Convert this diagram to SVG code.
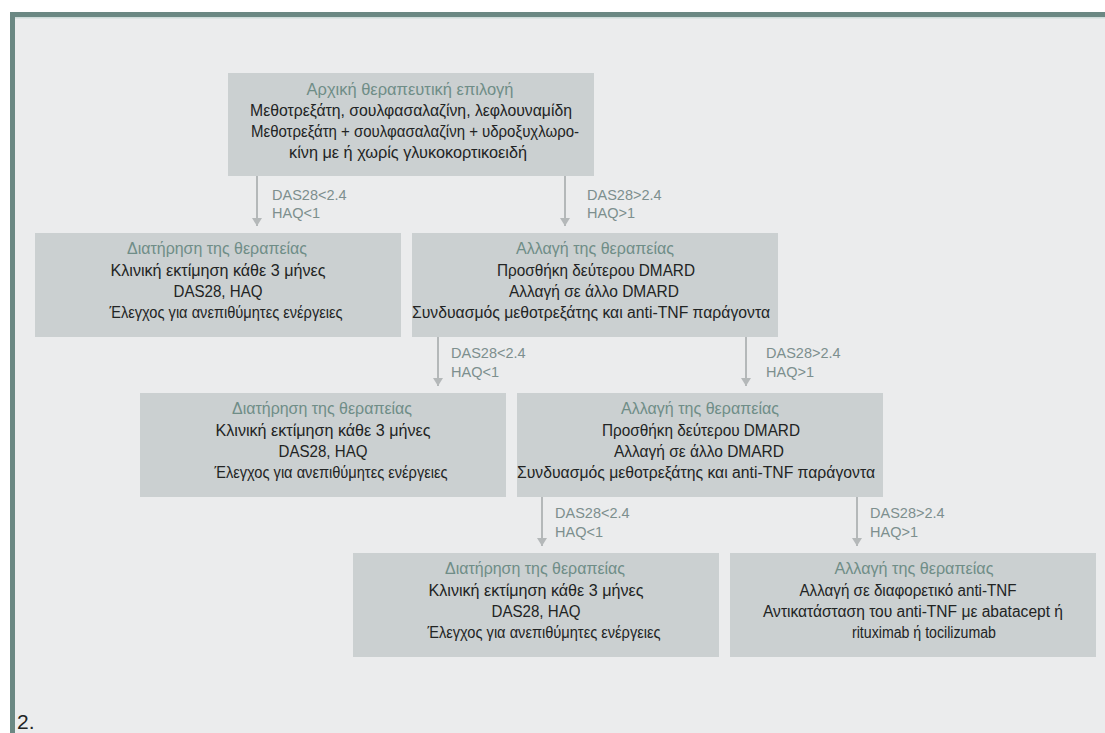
<svg xmlns="http://www.w3.org/2000/svg" width="1105" height="733" viewBox="0 0 1105 733">
  <defs>
    <marker id="ah" viewBox="0 0 8 10" refX="8" refY="5" markerWidth="8" markerHeight="10" markerUnits="userSpaceOnUse" orient="auto">
      <path d="M0,0 L8,5 L0,10 Z" fill="#b4b8b9"/>
    </marker>
    <style>
      .box { fill: #cbd0d1; }
      .t { font-family: "Liberation Sans", "DejaVu Sans", sans-serif; font-size: 16px; text-anchor: middle; }
      .title { fill: #6f8d87; }
      .body { fill: #222424; }
      .lbl { font-family: "Liberation Sans", "DejaVu Sans", sans-serif; font-size: 14.5px; fill: #7d8f8e; }
      .conn { stroke: #b4b8b9; stroke-width: 2; fill: none; marker-end: url(#ah); }
    </style>
  </defs>

  <rect x="0" y="0" width="1105" height="733" fill="#ffffff"/>
  <rect x="15" y="17" width="1090" height="716" fill="#ebeced"/>
  <rect x="15" y="17" width="1090" height="1.5" fill="#cfdcda"/>
  <rect x="10" y="12" width="1095" height="5" fill="#6b8883"/>
  <rect x="10" y="12" width="5" height="721" fill="#6b8883"/>

  <g id="connectors">
    <line class="conn" x1="257" y1="176" x2="257" y2="226"/>
    <line class="conn" x1="565" y1="176" x2="565" y2="226"/>
    <line class="conn" x1="438" y1="337" x2="438" y2="386"/>
    <line class="conn" x1="746" y1="337" x2="746" y2="386"/>
    <line class="conn" x1="542" y1="497" x2="542" y2="546"/>
    <line class="conn" x1="857" y1="497" x2="857" y2="546"/>
    <g id="labels">
      <text class="lbl" x="272" y="200">DAS28&lt;2.4</text>
      <text class="lbl" x="272" y="218">HAQ&lt;1</text>
      <text class="lbl" x="587" y="200">DAS28&gt;2.4</text>
      <text class="lbl" x="587" y="218">HAQ&gt;1</text>
      <text class="lbl" x="451" y="358">DAS28&lt;2.4</text>
      <text class="lbl" x="451" y="377">HAQ&lt;1</text>
      <text class="lbl" x="766" y="358">DAS28&gt;2.4</text>
      <text class="lbl" x="766" y="377">HAQ&gt;1</text>
      <text class="lbl" x="555" y="518">DAS28&lt;2.4</text>
      <text class="lbl" x="555" y="537">HAQ&lt;1</text>
      <text class="lbl" x="870" y="518">DAS28&gt;2.4</text>
      <text class="lbl" x="870" y="537">HAQ&gt;1</text>
    </g>
  </g>

  <g id="n-initial">
    <rect class="box" x="228" y="73" width="366" height="103"/>
    <text class="t title" x="410" y="95" textLength="207" lengthAdjust="spacingAndGlyphs">Αρχική θεραπευτική επιλογή</text>
    <text class="t body" x="411" y="116" textLength="322" lengthAdjust="spacingAndGlyphs">Μεθοτρεξάτη, σουλφασαλαζίνη, λεφλουναμίδη</text>
    <text class="t body" x="415" y="137" textLength="328" lengthAdjust="spacingAndGlyphs">Μεθοτρεξάτη + σουλφασαλαζίνη + υδροξυχλωρο-</text>
    <text class="t body" x="408" y="158" textLength="238" lengthAdjust="spacingAndGlyphs">κίνη με ή χωρίς γλυκοκορτικοειδή</text>
  </g>

  <g id="n-maintain-1">
    <rect class="box" x="35" y="233" width="366" height="104"/>
    <text class="t title" x="217" y="254" textLength="180" lengthAdjust="spacingAndGlyphs">Διατήρηση της θεραπείας</text>
    <text class="t body" x="218" y="276" textLength="215" lengthAdjust="spacingAndGlyphs">Κλινική εκτίμηση κάθε 3 μήνες</text>
    <text class="t body" x="218" y="297" textLength="89" lengthAdjust="spacingAndGlyphs">DAS28, HAQ</text>
    <text class="t body" x="226" y="318" textLength="233" lengthAdjust="spacingAndGlyphs">Έλεγχος για ανεπιθύμητες ενέργειες</text>
  </g>

  <g id="n-change-1">
    <rect class="box" x="412" y="233" width="366" height="104"/>
    <text class="t title" x="595" y="254" textLength="158" lengthAdjust="spacingAndGlyphs">Αλλαγή της θεραπείας</text>
    <text class="t body" x="596" y="276" textLength="198" lengthAdjust="spacingAndGlyphs">Προσθήκη δεύτερου DMARD</text>
    <text class="t body" x="594" y="297" textLength="170" lengthAdjust="spacingAndGlyphs">Αλλαγή σε άλλο DMARD</text>
    <text class="t body" x="591" y="318" textLength="358" lengthAdjust="spacingAndGlyphs">Συνδυασμός μεθοτρεξάτης και anti-TNF παράγοντα</text>
  </g>

  <g id="n-maintain-2">
    <rect class="box" x="140" y="393" width="366" height="104"/>
    <text class="t title" x="322" y="414" textLength="180" lengthAdjust="spacingAndGlyphs">Διατήρηση της θεραπείας</text>
    <text class="t body" x="323" y="436" textLength="215" lengthAdjust="spacingAndGlyphs">Κλινική εκτίμηση κάθε 3 μήνες</text>
    <text class="t body" x="323" y="457" textLength="89" lengthAdjust="spacingAndGlyphs">DAS28, HAQ</text>
    <text class="t body" x="331" y="478" textLength="233" lengthAdjust="spacingAndGlyphs">Έλεγχος για ανεπιθύμητες ενέργειες</text>
  </g>

  <g id="n-change-2">
    <rect class="box" x="517" y="393" width="366" height="104"/>
    <text class="t title" x="700" y="414" textLength="158" lengthAdjust="spacingAndGlyphs">Αλλαγή της θεραπείας</text>
    <text class="t body" x="701" y="436" textLength="198" lengthAdjust="spacingAndGlyphs">Προσθήκη δεύτερου DMARD</text>
    <text class="t body" x="699" y="457" textLength="170" lengthAdjust="spacingAndGlyphs">Αλλαγή σε άλλο DMARD</text>
    <text class="t body" x="696" y="478" textLength="358" lengthAdjust="spacingAndGlyphs">Συνδυασμός μεθοτρεξάτης και anti-TNF παράγοντα</text>
  </g>

  <g id="n-maintain-3">
    <rect class="box" x="353" y="553" width="366" height="104"/>
    <text class="t title" x="535" y="574" textLength="180" lengthAdjust="spacingAndGlyphs">Διατήρηση της θεραπείας</text>
    <text class="t body" x="536" y="596" textLength="215" lengthAdjust="spacingAndGlyphs">Κλινική εκτίμηση κάθε 3 μήνες</text>
    <text class="t body" x="536" y="617" textLength="89" lengthAdjust="spacingAndGlyphs">DAS28, HAQ</text>
    <text class="t body" x="544" y="638" textLength="233" lengthAdjust="spacingAndGlyphs">Έλεγχος για ανεπιθύμητες ενέργειες</text>
  </g>

  <g id="n-change-3">
    <rect class="box" x="730" y="553" width="366" height="104"/>
    <text class="t title" x="914" y="574" textLength="159" lengthAdjust="spacingAndGlyphs">Αλλαγή της θεραπείας</text>
    <text class="t body" x="908" y="596" textLength="217" lengthAdjust="spacingAndGlyphs">Αλλαγή σε διαφορετικό anti-TNF</text>
    <text class="t body" x="913" y="617" textLength="300" lengthAdjust="spacingAndGlyphs">Αντικατάσταση του anti-TNF με abatacept ή</text>
    <text class="t body" x="924" y="638" textLength="144" lengthAdjust="spacingAndGlyphs">rituximab ή tocilizumab</text>
  </g>

  <text x="17" y="729" font-family="Liberation Sans, DejaVu Sans, sans-serif" font-size="21" fill="#222424">2.</text>
</svg>
